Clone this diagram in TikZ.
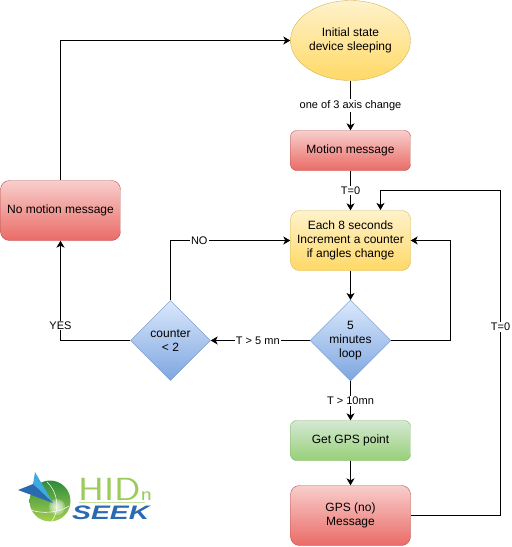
\documentclass[tikz,border=0pt]{standalone}
\usepackage{graphicx}
\usepackage{fontspec}
\setmainfont{Liberation Sans}
\usetikzlibrary{arrows.meta, shapes.geometric}
\definecolor{yellowtop}{HTML}{FFF2CC}
\definecolor{yellowbot}{HTML}{FFD966}
\definecolor{yellowline}{HTML}{D6B656}
\definecolor{redtop}{HTML}{F8CECC}
\definecolor{redbot}{HTML}{EA6B66}
\definecolor{redline}{HTML}{B85450}
\definecolor{greentop}{HTML}{D5E8D4}
\definecolor{greenbot}{HTML}{97D077}
\definecolor{greenline}{HTML}{82B366}
\definecolor{bluetop}{HTML}{DAE8FC}
\definecolor{bluebot}{HTML}{7EA6E0}
\definecolor{blueline}{HTML}{6C8EBF}
\definecolor{hidgreen}{HTML}{9CCB5A}
\definecolor{seekblue}{HTML}{2A6AAE}
\definecolor{kitecyan}{HTML}{3FA9E0}
\definecolor{balltop}{HTML}{2E8B3C}
\definecolor{ballbot}{HTML}{A5D04F}
\tikzset{
  box/.style={rectangle, rounded corners=6pt, minimum width=120pt, minimum height=40pt, align=center, font=\fontsize{12}{14}\selectfont, inner sep=0pt},
  tallbox/.style={minimum height=60pt, rounded corners=9pt},
  redbox/.style={box, draw=redline, top color=redtop, bottom color=redbot},
  yellowbox/.style={box, draw=yellowline, top color=yellowtop, bottom color=yellowbot},
  greenbox/.style={box, draw=greenline, top color=greentop, bottom color=greenbot},
  startstate/.style={ellipse, minimum width=120pt, minimum height=80pt, inner sep=0pt, align=center, font=\fontsize{12}{14}\selectfont, draw=yellowline, top color=yellowtop, bottom color=yellowbot},
  decision/.style={diamond, aspect=1, minimum width=80pt, minimum height=80pt, inner sep=0pt, align=center, font=\fontsize{12}{14}\selectfont, draw=blueline, top color=bluetop, bottom color=bluebot},
  flow/.style={-{Stealth[length=7pt,width=8pt,inset=2pt]}, line width=0.8pt},
  lab/.style={fill=white, inner sep=1pt, font=\fontsize{11}{13}\selectfont},
}
\begin{document}
\begin{tikzpicture}[x=1pt,y=-1pt]
\useasboundingbox (0,0) rectangle (512,547);
\node[startstate] (initial) at (350.5,40.5) {Initial state\\device sleeping};
\node[redbox] (motion) at (350.5,150.5) {Motion message};
\node[yellowbox, tallbox] (each) at (350.5,240.5) {Each 8 seconds\\Increment a counter\\if angles change};
\node[decision] (loop) at (350.5,340.5) {5\\minutes\\loop};
\node[decision] (counter) at (170.5,340.5) {counter\\< 2};
\node[redbox, tallbox] (nomotion) at (60.5,210.5) {No motion message};
\node[greenbox] (gps) at (350.5,440.5) {Get GPS point};
\node[redbox, tallbox] (gpsmsg) at (350.5,515.5) {GPS (no)\\Message};
\coordinate (loopturn) at (450.5,340.5);
\coordinate (backlow) at (500.5,515.5);
\coordinate (backtop) at (500.5,190.5);
\coordinate (backin) at (380.5,190.5);
\coordinate (eachtop) at (380.5,210);
\draw[flow] (initial) -- node[lab, pos=0.5] {one of 3 axis change} (motion);
\draw[flow] (motion) -- node[lab, pos=0.5] {T=0} (each);
\draw[flow] (each) -- (loop);
\draw[flow] (loop) -- node[lab, pos=0.525] {T > 5 mn} (counter);
\draw[flow] (counter.north) |- node[lab, pos=0.62] {NO} (each.west);
\draw[flow] (counter.west) -| node[lab, pos=0.575] {YES} (nomotion.south);
\draw[flow] (nomotion.north) |- (initial.west);
\draw[flow] (loop.east) -- (loopturn) |- (each.east);
\draw[flow] (loop) -- node[lab, pos=0.5] {T > 10mn} (gps);
\draw[flow] (gps) -- (gpsmsg);
\draw[flow] (gpsmsg.east) -- (backlow) -- node[lab, pos=0.58] {T=0} (backtop) -- (backin) -- (eachtop);
% logo
\shade[top color=balltop, bottom color=ballbot] (50,501) circle (20.5pt);
\draw[white, line width=0.5pt] (31,510) .. controls (42,514) and (58,513) .. (69,506);
\draw[white, line width=0.5pt] (47,482) .. controls (58,492) and (60,510) .. (52,521);
\foreach \r in {8,6,4,2}
  \fill[white, opacity=0.3] (57,507) circle (\r pt);
\fill[kitecyan] (35,472) -- (53,503) -- (33,484) -- cycle;
\fill[seekblue] (18,490) -- (33,484) -- (53,503) -- cycle;
\draw[hidgreen!60!white, line width=0.6pt] (79,502) -- (145,502);
\node[text=hidgreen, font=\sffamily\fontsize{32}{32}\selectfont, anchor=base west, inner sep=0pt] (hid) at (78,500) {\scalebox{1.22}[1]{HID}\fontsize{20}{20}\selectfont\scalebox{1.2}[1]{n}};
\node[text=seekblue, font=\bfseries\itshape\fontsize{19.5}{20}\selectfont, anchor=base west, inner sep=0pt] (seek) at (72,519) {\scalebox{1.45}[1]{SEEK}};
\end{tikzpicture}
\end{document}
